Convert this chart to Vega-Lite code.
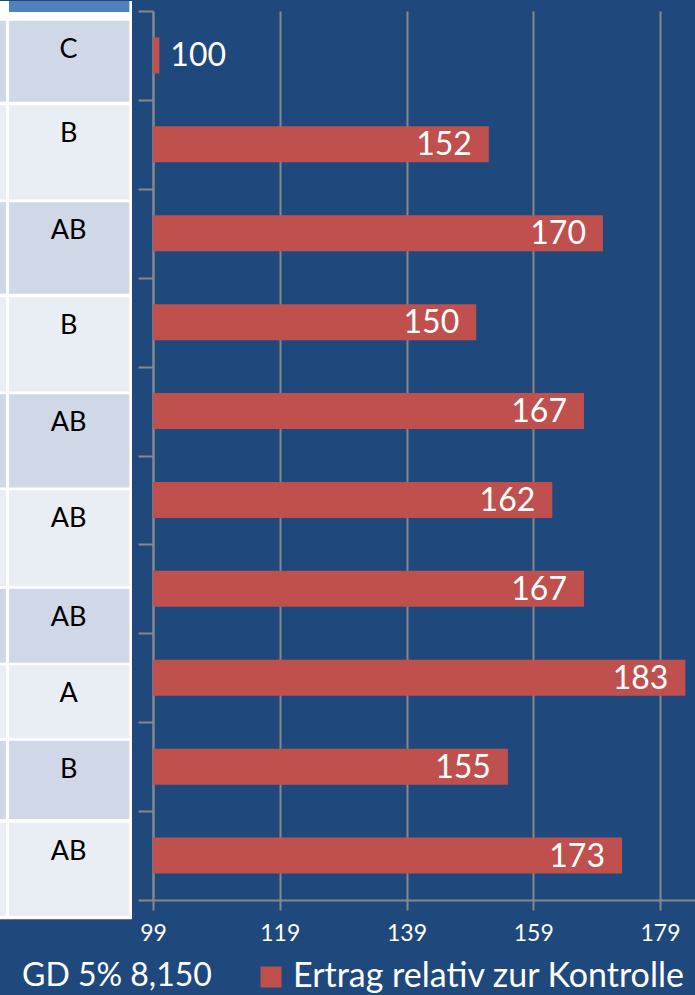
{
  "$schema": "https://vega.github.io/schema/vega-lite/v6.json",
  "background": "#1F497D",
  "padding": {"left": 0, "top": 0, "right": 0, "bottom": 6},
  "spacing": 11,
  "bounds": "full",
  "datasets": {
    "ertrag": [
      {"row": 1, "ertrag": 100, "gruppe": "C", "von": 0.61, "bis": 1.52},
      {"row": 2, "ertrag": 152, "gruppe": "B", "von": 1.56, "bis": 2.62},
      {"row": 3, "ertrag": 170, "gruppe": "AB", "von": 2.65, "bis": 3.68},
      {"row": 4, "ertrag": 150, "gruppe": "B", "von": 3.72, "bis": 4.78},
      {"row": 5, "ertrag": 167, "gruppe": "AB", "von": 4.81, "bis": 5.86},
      {"row": 6, "ertrag": 162, "gruppe": "AB", "von": 5.89, "bis": 6.97},
      {"row": 7, "ertrag": 167, "gruppe": "AB", "von": 7.0, "bis": 7.83},
      {"row": 8, "ertrag": 183, "gruppe": "A", "von": 7.86, "bis": 8.68},
      {"row": 9, "ertrag": 155, "gruppe": "B", "von": 8.71, "bis": 9.59},
      {"row": 10, "ertrag": 173, "gruppe": "AB", "von": 9.63, "bis": 10.68}
    ]
  },
  "resolve": {"scale": {"x": "independent", "y": "independent"}},
  "vconcat": [
    {
      "spacing": 21,
      "bounds": "flush",
      "resolve": {"scale": {"x": "independent", "y": "independent"}},
      "hconcat": [
        {
          "width": 132,
          "height": 889,
          "layer": [
            {
              "data": {"values": [{}]},
              "mark": {"type": "rect", "color": "white"},
              "encoding": {
                "x": {"datum": 0, "type": "quantitative", "scale": {"domain": [0, 1], "nice": false, "zero": false}, "axis": null},
                "x2": {"datum": 1},
                "y": {"datum": 0.3875, "type": "quantitative", "scale": {"domain": [0.5, 10.5], "reverse": true, "nice": false, "zero": false}, "axis": null},
                "y2": {"datum": 10.717}
              }
            },
            {
              "data": {"values": [{}]},
              "mark": {"type": "rect", "color": "#4F81BD"},
              "encoding": {
                "x": {"datum": 0.068, "type": "quantitative"},
                "x2": {"datum": 0.98},
                "y": {"datum": 0.3875, "type": "quantitative"},
                "y2": {"datum": 0.511}
              }
            },
            {
              "data": {"name": "ertrag"},
              "mark": {"type": "rect"},
              "encoding": {
                "x": {"datum": 0.068, "type": "quantitative"},
                "x2": {"datum": 0.98},
                "y": {"field": "von", "type": "quantitative"},
                "y2": {"field": "bis"},
                "color": {"condition": {"test": "datum.row % 2 == 1", "value": "#D0D8E8"}, "value": "#E9EDF4"}
              }
            },
            {
              "data": {"name": "ertrag"},
              "mark": {"type": "rect"},
              "encoding": {
                "x": {"datum": 0, "type": "quantitative"},
                "x2": {"datum": 0.045},
                "y": {"field": "von", "type": "quantitative"},
                "y2": {"field": "bis"},
                "color": {"condition": {"test": "datum.row % 2 == 1", "value": "#D0D8E8"}, "value": "#E9EDF4"}
              }
            },
            {
              "data": {"name": "ertrag"},
              "mark": {"type": "text", "font": "Lato", "fontSize": 27, "color": "black", "align": "center", "baseline": "middle", "dy": 29},
              "encoding": {
                "x": {"datum": 0.52, "type": "quantitative"},
                "y": {"field": "von", "type": "quantitative"},
                "text": {"field": "gruppe"}
              }
            }
          ]
        },
        {
          "width": 542,
          "height": 889,
          "data": {"name": "ertrag"},
          "encoding": {
            "y": {
              "field": "row",
              "type": "quantitative",
              "scale": {"domain": [0.5, 10.5], "reverse": true, "nice": false, "zero": false, "padding": 0},
              "axis": {
                "values": [0.5, 1.5, 2.5, 3.5, 4.5, 5.5, 6.5, 7.5, 8.5, 9.5, 10.5],
                "labels": false,
                "title": null,
                "grid": false,
                "tickSize": 15,
                "tickColor": "#888888",
                "tickWidth": 2,
                "domainColor": "#888888",
                "domainWidth": 2
              }
            }
          },
          "layer": [
            {
              "mark": {"type": "bar", "orient": "horizontal", "size": 36},
              "encoding": {
                "x": {
                  "field": "ertrag",
                  "type": "quantitative",
                  "scale": {"domain": [99, 184.52], "nice": false, "zero": false, "padding": 0},
                  "axis": {
                    "values": [99, 119, 139, 159, 179],
                    "title": null,
                    "grid": true,
                    "gridColor": "#888888",
                    "gridWidth": 2,
                    "domainColor": "#888888",
                    "domainWidth": 2,
                    "tickColor": "#888888",
                    "tickWidth": 2,
                    "tickSize": 10,
                    "labelColor": "white",
                    "labelFont": "Lato",
                    "labelFontSize": 23,
                    "labelPadding": 12,
                    "labelFlush": false,
                    "labelOverlap": false
                  }
                },
                "x2": {"datum": 99},
                "color": {
                  "datum": "Ertrag relativ zur Kontrolle",
                  "scale": {"range": ["#C0504D"]},
                  "legend": {
                    "title": null,
                    "orient": "none",
                    "legendX": 254,
                    "legendY": 949,
                    "symbolType": "square",
                    "symbolSize": 441,
                    "symbolStrokeWidth": 0,
                    "symbolOpacity": 1,
                    "labelColor": "white",
                    "labelFont": "Lato",
                    "labelFontSize": 34,
                    "labelOffset": 5,
                    "labelLimit": 600,
                    "padding": 0
                  }
                }
              }
            },
            {
              "transform": [{"filter": "datum.ertrag >= 120"}],
              "mark": {"type": "text", "font": "Lato", "fontSize": 32, "color": "white", "align": "right", "baseline": "middle", "dx": -17, "dy": 1},
              "encoding": {
                "x": {"field": "ertrag", "type": "quantitative"},
                "text": {"field": "ertrag", "type": "quantitative"}
              }
            },
            {
              "transform": [{"filter": "datum.ertrag < 120"}],
              "mark": {"type": "text", "font": "Lato", "fontSize": 32, "color": "white", "align": "left", "baseline": "middle", "dx": 11, "dy": 1},
              "encoding": {
                "x": {"field": "ertrag", "type": "quantitative"},
                "text": {"field": "ertrag", "type": "quantitative"}
              }
            }
          ]
        }
      ]
    },
    {
      "width": 695,
      "height": 40,
      "data": {"values": [{"label": "GD 5% 8,150"}]},
      "mark": {"type": "text", "font": "Lato", "fontSize": 32, "color": "white", "align": "left", "baseline": "middle"},
      "encoding": {
        "x": {"datum": 22, "type": "quantitative", "scale": {"domain": [0, 695], "nice": false, "zero": false}, "axis": null},
        "y": {"datum": 0.5, "type": "quantitative", "scale": {"domain": [0, 1], "nice": false, "zero": false}, "axis": null},
        "text": {"field": "label"}
      }
    }
  ],
  "config": {
    "font": "Lato",
    "view": {"stroke": null},
    "axisX": {"labelFontSize": 23, "labelFont": "Lato", "labelColor": "white"}
  }
}
